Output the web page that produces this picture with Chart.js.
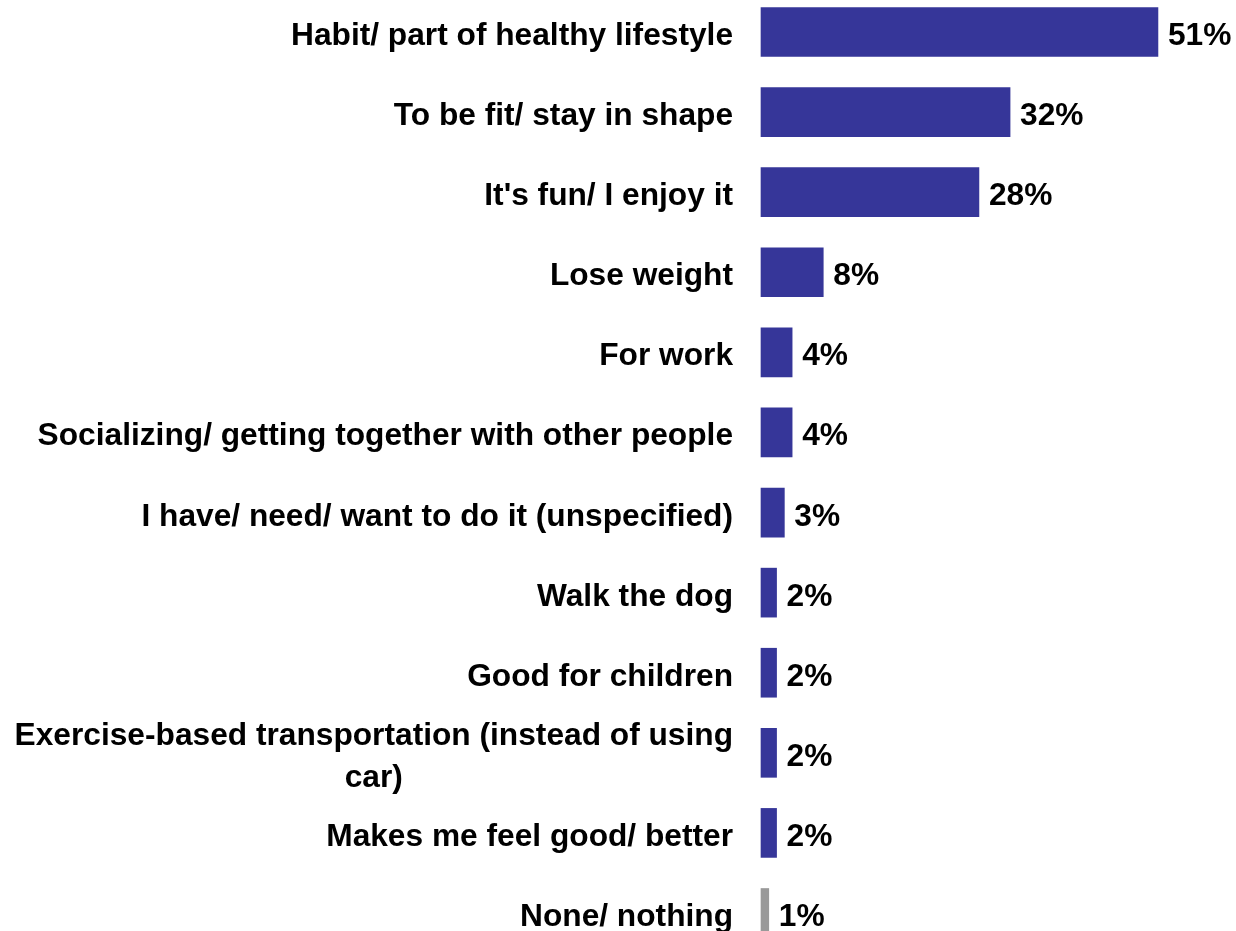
<!DOCTYPE html>
<html>
<head>
<meta charset="utf-8">
<style>
  html, body { margin: 0; padding: 0; background: #ffffff; }
  #wrap { width: 1236px; height: 931px; position: relative; }
</style>
<script src="https://cdn.jsdelivr.net/npm/chart.js@4/dist/chart.umd.min.js"></script>
</head>
<body>
<div id="wrap"><canvas id="chart" width="1236" height="931"></canvas></div>
<script>
// Reasons given, share of respondents (%)
const categories = [
  "Habit/ part of healthy lifestyle",
  "To be fit/ stay in shape",
  "It's fun/ I enjoy it",
  "Lose weight",
  "For work",
  "Socializing/ getting together with other people",
  "I have/ need/ want to do it (unspecified)",
  "Walk the dog",
  "Good for children",
  ["Exercise-based transportation (instead of using", "car)"],
  "Makes me feel good/ better",
  "None/ nothing"
];
const values = [51, 32, 28, 8, 4, 4, 3, 2, 2, 2, 2, 1];
const valueLabels = ["51%", "32%", "28%", "8%", "4%", "4%", "3%", "2%", "2%", "2%", "2%", "1%"];

const BLUE = "#363699";
const GREY = "#999999";
const FONT = "bold 31.7px 'Liberation Sans', Arial, Helvetica, sans-serif";
const LABEL_RIGHT = 733;   // right edge of the category text block
const LABEL_LINE = 42;     // line spacing for wrapped category text
const BASE_SHIFT = 13;     // baseline offset below the bar centre

// Category text: block right-aligned to the axis, wrapped lines centred within it
const categoryText = {
  id: "categoryText",
  afterDraw(chart) {
    const ctx = chart.ctx;
    const y = chart.scales.y;
    ctx.save();
    ctx.font = FONT;
    ctx.fillStyle = "#000000";
    ctx.textBaseline = "alphabetic";
    ctx.textAlign = "center";
    categories.forEach((lab, i) => {
      const lines = Array.isArray(lab) ? lab : [lab];
      const blockW = Math.max(...lines.map(l => ctx.measureText(l).width));
      const cx = LABEL_RIGHT - blockW / 2;
      const base = y.getPixelForTick(i) + BASE_SHIFT - (lines.length - 1) * LABEL_LINE / 2;
      lines.forEach((l, k) => ctx.fillText(l, cx, base + k * LABEL_LINE));
    });
    ctx.restore();
  }
};

// Value text just past the end of each bar
const valueText = {
  id: "valueText",
  afterDatasetsDraw(chart) {
    const ctx = chart.ctx;
    const meta = chart.getDatasetMeta(0);
    ctx.save();
    ctx.font = FONT;
    ctx.fillStyle = "#000000";
    ctx.textAlign = "left";
    ctx.textBaseline = "alphabetic";
    meta.data.forEach((bar, i) => {
      ctx.fillText(valueLabels[i], bar.x + 10, bar.y + BASE_SHIFT);
    });
    ctx.restore();
  }
};

new Chart(document.getElementById("chart"), {
  type: "bar",
  data: {
    labels: categories,
    datasets: [{
      data: values,
      backgroundColor: c => c.dataIndex === categories.length - 1 ? GREY : BLUE,
      borderWidth: 0,
      barThickness: 49,
      clip: false
    }]
  },
  options: {
    indexAxis: "y",
    responsive: false,
    animation: false,
    events: [],
    layout: { padding: { top: 32, bottom: 18, left: 0, right: 8 } },
    plugins: {
      legend: { display: false },
      tooltip: { enabled: false }
    },
    scales: {
      x: {
        display: false,
        min: 0,
        max: 60
      },
      y: {
        offset: false,
        grid: { display: false, drawTicks: false },
        border: { display: false },
        ticks: { display: false },
        afterFit(scale) { scale.width = 761; }
      }
    }
  },
  plugins: [categoryText, valueText]
});
</script>
</body>
</html>
